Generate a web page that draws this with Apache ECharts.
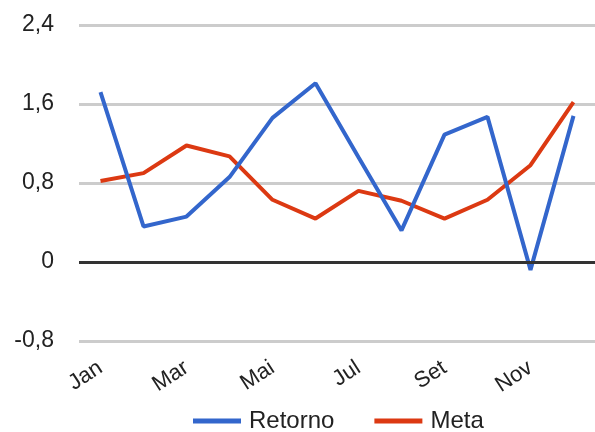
<!DOCTYPE html>
<html>
<head>
<meta charset="utf-8">
<script src="https://cdn.jsdelivr.net/npm/echarts@6/dist/echarts.min.js"></script>
<style>
  html, body { margin: 0; padding: 0; background: #fff; }
  #chart { width: 595px; height: 432px; }
</style>
</head>
<body>
<div id="chart"></div>
<script>
// dados
var meses = ['Jan', 'Fev', 'Mar', 'Abr', 'Mai', 'Jun', 'Jul', 'Ago', 'Set', 'Out', 'Nov', 'Dez'];
var retorno = [1.72, 0.36, 0.46, 0.86, 1.46, 1.81, 1.06, 0.32, 1.29, 1.47, -0.08, 1.48];
var meta = [0.82, 0.90, 1.18, 1.07, 0.63, 0.44, 0.72, 0.62, 0.44, 0.63, 0.98, 1.62];

var chart = echarts.init(document.getElementById('chart'));

chart.setOption({
    animation: false,
    textStyle: { fontFamily: 'Liberation Sans, Arial, sans-serif' },
    color: ['#3366cc', '#dc3912'],
    grid: { left: 79, top: 25, width: 520, height: 316 },
    legend: {
        top: 409,
        left: 193,
        padding: 0,
        icon: 'rect',
        itemWidth: 48,
        itemHeight: 5,
        itemGap: 40,
        textStyle: { fontSize: 24, color: '#222', padding: [0, 0, 0, 3] },
        data: ['Retorno', 'Meta']
    },
    xAxis: {
        type: 'category',
        data: meses,
        boundaryGap: true,
        axisLine: { show: false },
        axisTick: { show: false },
        axisLabel: {
            interval: 1,
            rotate: 33,
            fontSize: 22,
            color: '#222',
            margin: 25
        }
    },
    yAxis: {
        type: 'value',
        min: -0.8,
        max: 2.4,
        interval: 0.8,
        axisLine: { show: false },
        axisTick: { show: false },
        axisLabel: {
            fontSize: 23,
            color: '#222',
            margin: 25,
            formatter: function (v) {
                return (Math.round(v * 10) / 10).toString().replace('.', ',');
            }
        },
        splitLine: { lineStyle: { color: '#cccccc', width: 3 } }
    },
    series: [
        {
            name: 'Retorno',
            type: 'line',
            data: retorno,
            showSymbol: false,
            lineStyle: { width: 4 },
            markLine: {
                silent: true,
                symbol: 'none',
                label: { show: false },
                lineStyle: { color: '#333', width: 3, type: 'solid' },
                data: [{ yAxis: 0 }]
            },
            z: 3
        },
        {
            name: 'Meta',
            type: 'line',
            data: meta,
            showSymbol: false,
            lineStyle: { width: 4 },
            z: 2
        }
    ]
});
</script>
</body>
</html>
